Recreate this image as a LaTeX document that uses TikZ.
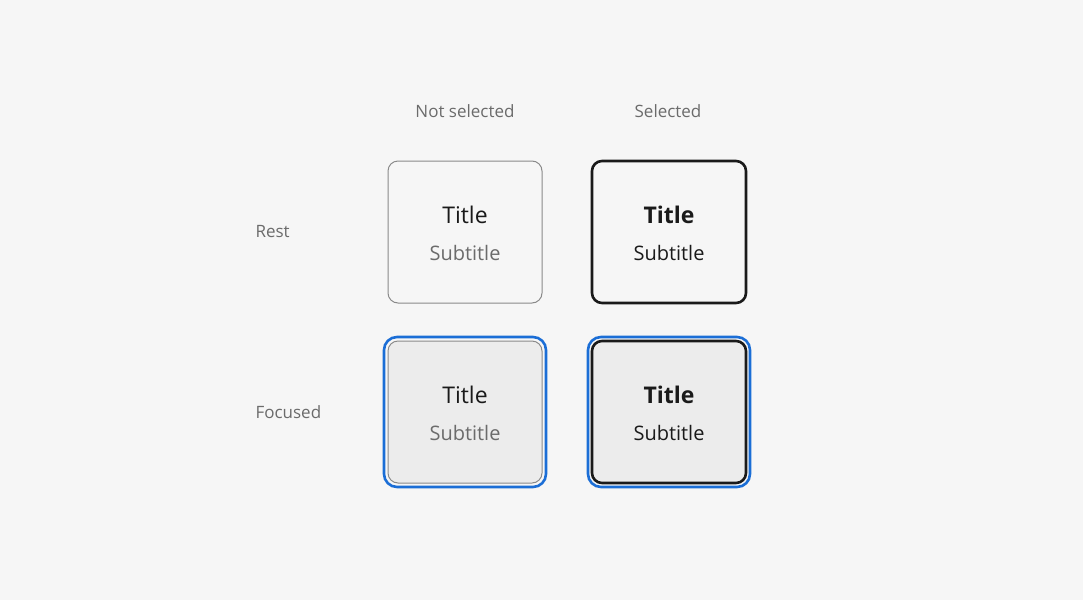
\documentclass[tikz,border=0pt]{standalone}
\usepackage{fontspec}
\setmainfont{Open Sans}
\usetikzlibrary{positioning}
\definecolor{bgcol}{HTML}{F6F6F6}
\definecolor{labelcol}{HTML}{6B6B6B}
\definecolor{restline}{HTML}{8A8A8A}
\definecolor{darkline}{HTML}{1A1A1A}
\definecolor{focusfill}{HTML}{ECECEC}
\definecolor{focusblue}{HTML}{1B6ED6}
\tikzset{
  headlabel/.style={text=labelcol, font=\fontsize{17}{20}\selectfont},
  rowlabel/.style={headlabel, anchor=west},
  tile/.style={minimum width=154pt, minimum height=142pt, rounded corners=10pt, inner sep=0pt},
  ring/.style={draw=focusblue, line width=2.6pt, minimum width=162pt, minimum height=150pt, rounded corners=13pt, inner sep=0pt},
  titletext/.style={text=darkline, font=\fontsize{23}{26}\selectfont},
  subtext/.style={font=\fontsize{20}{24}\selectfont}
}
\begin{document}
\begin{tikzpicture}[x=1pt,y=-1pt]
  \fill[bgcol] (0,0) rectangle (1083,600);

  % column and row headings
  \node[headlabel] (colnot) at (465,111) {Not selected};
  \node[headlabel] (colsel) at (668,111) {Selected};
  \node[rowlabel] (rowrest) at (252,232) {Rest};
  \node[rowlabel] (rowfocus) at (252,412) {Focused};

  % rest, not selected
  \node[tile, draw=restline, line width=1pt] (restnot) at (465,232) {};
  \node[titletext] (restnottitle) at (465,215) {Title};
  \node[subtext, text=labelcol] (restnotsub) at (465,253) {Subtitle};

  % rest, selected
  \node[tile, draw=darkline, line width=2.6pt] (restsel) at (669,232) {};
  \node[titletext, font=\fontsize{23}{26}\selectfont\bfseries] (restseltitle) at (669,215) {Title};
  \node[subtext, text=darkline] (restselsub) at (669,253) {Subtitle};

  % focused, not selected
  \node[ring] (focnotring) at (465,412) {};
  \node[tile, draw=restline, fill=focusfill, line width=1pt] (focnot) at (465,412) {};
  \node[titletext] (focnottitle) at (465,395) {Title};
  \node[subtext, text=labelcol] (focnotsub) at (465,433) {Subtitle};

  % focused, selected
  \node[ring] (focselring) at (669,412) {};
  \node[tile, draw=darkline, fill=focusfill, line width=2.6pt] (focsel) at (669,412) {};
  \node[titletext, font=\fontsize{23}{26}\selectfont\bfseries] (focseltitle) at (669,395) {Title};
  \node[subtext, text=darkline] (focselsub) at (669,433) {Subtitle};
\end{tikzpicture}
\end{document}
